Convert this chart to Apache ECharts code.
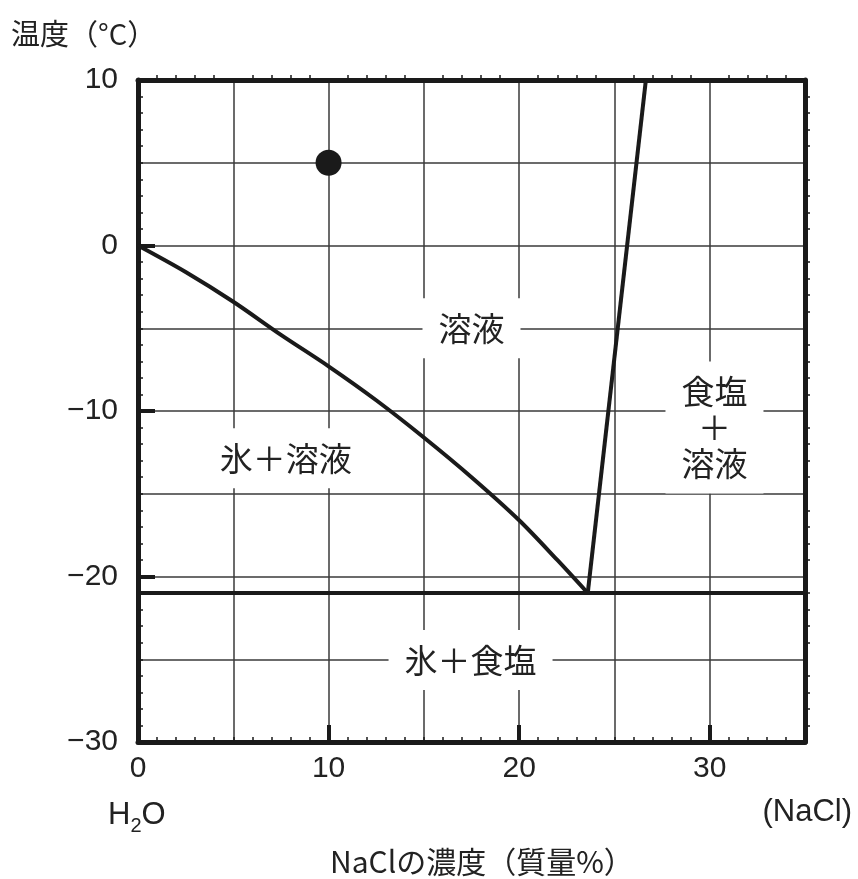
<!DOCTYPE html>
<html>
<head>
<meta charset="utf-8">
<script src="https://cdn.jsdelivr.net/npm/echarts@6/dist/echarts.min.js"></script>
<style>
html,body{margin:0;padding:0;background:#fff;}
#c{width:858px;height:879px;}
</style>
</head>
<body>
<div id="c"></div>
<script>
// Data
const xMin = 0, xMax = 35, yMin = -30, yMax = 10;
const freezingCurve = [[0,0],[2.5,-1.6],[5,-3.4],[7.5,-5.4],[10,-7.3],[12.5,-9.35],[15,-11.6],[17.5,-14],[20,-16.6],[22,-19],[23.6,-21]];
const solubilityLine = [[23.6,-21],[26.65,10]];
const eutecticLine = [[0,-21],[35,-21]];
const dotPoint = [[10,5]];
const regionLabels = [
  {text:'溶液', pos:[17.5,-5]},
  {text:'氷＋溶液', pos:[7.75,-12.85]},
  {text:'食塩\n＋\n溶液', pos:[30.25,-11]},
  {text:'氷＋食塩', pos:[17.45,-25.05]}
];

const FONT = '"Liberation Sans", Arial, "Noto Sans CJK JP", sans-serif';
const JFONT = '"Noto Sans CJK JP", "Liberation Sans", sans-serif';
const INK = '#1a1a1a';
const TXT = '#222';
const chart = echarts.init(document.getElementById('c'), null, {renderer:'canvas'});

const gridLine = {show:true, lineStyle:{color:'#3a3a3a', width:1.5}};
const frameLine = {show:true, onZero:false, lineStyle:{color:INK, width:5}};

chart.setOption({
  backgroundColor:'#fff',
  animation:false,
  title:[
    {text:'温度（°C）', left:6, top:14, textStyle:{fontFamily:JFONT, fontSize:29, fontWeight:'normal', color:TXT}},
    {text:'{a|H}{s|2}{a|O}', left:103, top:789, textStyle:{rich:{a:{fontFamily:FONT, fontSize:31, fontWeight:'normal', color:TXT}, s:{fontFamily:FONT, fontSize:20, fontWeight:'normal', color:TXT, padding:[22,0,0,0]}}}},
    {text:'(NaCl)', right:1, top:792, textStyle:{fontFamily:FONT, fontSize:31, fontWeight:'normal', color:TXT}},
    {text:'NaClの濃度（質量%）', left:325, top:842, textStyle:{fontFamily:JFONT, fontSize:30, fontWeight:'normal', color:TXT}}
  ],
  grid:{left:138, right:53, top:80, bottom:137},
  xAxis:[
    {type:'value', position:'bottom', min:xMin, max:xMax, interval:10,
      axisLine:frameLine,
      axisTick:{show:true, inside:true, length:17, lineStyle:{color:INK, width:4}},
      minorTick:{show:true, splitNumber:10, length:5, lineStyle:{color:INK, width:1.5}},
      axisLabel:{show:true, margin:12, fontFamily:FONT, fontSize:30, color:TXT, showMaxLabel:false},
      splitLine:{show:false}},
    {type:'value', position:'top', min:xMin, max:xMax, interval:5,
      axisLine:frameLine,
      axisTick:{show:false},
      minorTick:{show:true, splitNumber:5, length:5, lineStyle:{color:INK, width:1.5}},
      axisLabel:{show:false},
      splitLine:gridLine}
  ],
  yAxis:[
    {type:'value', position:'left', min:yMin, max:yMax, interval:10,
      axisLine:frameLine,
      axisTick:{show:true, inside:true, length:17, lineStyle:{color:INK, width:4}},
      minorTick:{show:true, splitNumber:10, length:5, lineStyle:{color:INK, width:1.5}},
      axisLabel:{show:true, margin:20, fontFamily:FONT, fontSize:30, color:TXT,
        formatter:v=> v<0 ? '\u2212'+Math.abs(v) : String(v)},
      splitLine:{show:false}},
    {type:'value', position:'right', min:yMin, max:yMax, interval:5,
      axisLine:frameLine,
      axisTick:{show:false},
      minorTick:{show:true, splitNumber:5, length:5, lineStyle:{color:INK, width:1.5}},
      axisLabel:{show:false},
      splitLine:gridLine}
  ],
  series:[
    {type:'scatter', xAxisIndex:0, yAxisIndex:0, symbolSize:1, z:5,
      itemStyle:{opacity:0},
      data: regionLabels.map(r=>({value:r.pos, label:{formatter:r.text}})),
      label:{show:true, position:'inside', fontFamily:JFONT, fontSize:33, color:TXT, lineHeight:36,
        backgroundColor:'#fff', opacity:1, padding:[12,16,12,16], align:'center', verticalAlign:'middle'},
      emphasis:{disabled:true},
      silent:true},
    {type:'line', xAxisIndex:0, yAxisIndex:0, data:freezingCurve, smooth:0.3, symbol:'none', z:3,
      lineStyle:{color:INK, width:4}},
    {type:'line', xAxisIndex:0, yAxisIndex:0, data:solubilityLine, symbol:'none', z:3,
      lineStyle:{color:INK, width:4}},
    {type:'line', xAxisIndex:0, yAxisIndex:0, data:eutecticLine, symbol:'none', z:3,
      lineStyle:{color:INK, width:4}},
    {type:'scatter', xAxisIndex:0, yAxisIndex:0, data:dotPoint, symbolSize:26, z:4,
      itemStyle:{color:INK, opacity:1}}
  ]
});
</script>
</body>
</html>
